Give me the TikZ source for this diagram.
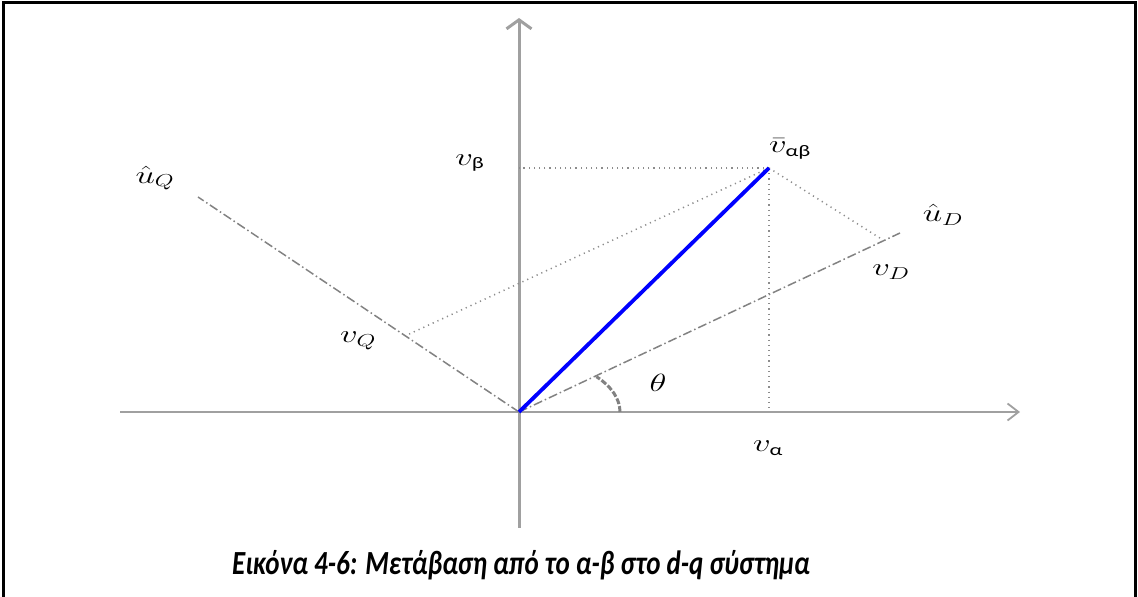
\documentclass[tikz,border=0pt]{standalone}
\usepackage{amsmath}
\usepackage{fontspec}
\usepackage{tikz}
\usetikzlibrary{arrows.meta, positioning, calc}
\newfontfamily\calfont{Carlito}
\definecolor{axisgray}{RGB}{160,160,160}
\definecolor{linegray}{RGB}{130,130,130}
\definecolor{dotgray}{RGB}{140,140,140}
\newcommand{\gsub}[1]{\text{\calfont #1}}

\begin{document}
\begin{tikzpicture}[x=1pt, y=1pt,
    lbl/.style={font=\fontsize{23}{26}\selectfont, xscale=1.4, inner sep=0pt},
    axisline/.style={draw=axisgray},
    dqaxis/.style={draw=linegray, line width=1.5pt,
                   dash pattern=on 9pt off 3pt on 1.5pt off 3pt},
    proj/.style={draw=dotgray, line width=1.5pt, dash pattern=on 1.2pt off 4pt}]
  \useasboundingbox (0,0) rectangle (1138,597);
  % frame
  \draw[line width=3pt] (3,0) -- (3,594) -- (1135,594) -- (1135,0);

  % points
  \coordinate (O)  at (519,185);
  \coordinate (xl) at (120,185);
  \coordinate (xr) at (1020,185);
  \coordinate (yb) at (519,69);
  \coordinate (yt) at (519,579);
  \coordinate (V)  at (769,429);
  \coordinate (D)  at (900,364);
  \coordinate (Q)  at (198,400);
  \coordinate (PD) at (883,357);
  \coordinate (PQ) at (405,261);
  \coordinate (Pa) at (769,185);
  \coordinate (Pb) at (519,429);

  % axes
  \draw[axisline, line width=1.8pt, -{Straight Barb[length=11pt, width=17pt]}] (xl) -- (xr);
  \draw[axisline, line width=3pt, -{Straight Barb[length=9pt, width=25pt]}] (yb) -- (yt);
  \draw[dqaxis] (O) -- (D);
  \draw[dqaxis] (O) -- (Q);

  % projections
  \draw[proj] (V) -- (Pb);
  \draw[proj] (V) -- (Pa);
  \draw[proj] (V) -- (PD);
  \draw[proj] (V) -- (PQ);

  % vector
  \draw[blue, line width=3.8pt] (O) -- (V);

  % angle
  \draw[linegray, line width=3pt, dash pattern=on 6pt off 2pt]
    (620,185) arc[start angle=0, end angle=40, x radius=101, y radius=55];

  % labels
  \node[lbl] (uQ)    at (155,419) {$\hat{u}_Q$};
  \node[lbl] (vb)    at (470,434) {$v_{\gsub{β}}$};
  \node[lbl] (vab)   at (790,448) {$\bar{v}_{\gsub{αβ}}$};
  \node[lbl] (uD)    at (943,382) {$\hat{u}_D$};
  \node[lbl] (vD)    at (891,325) {$v_D$};
  \node[lbl] (vQ)    at (358,256) {$v_Q$};
  \node[lbl] (theta) at (658,214) {$\theta$};
  \node[lbl] (va)    at (768,149) {$v_{\gsub{α}}$};

  % caption
  \node[font=\calfont\bfseries\itshape\fontsize{27}{32}\selectfont, inner sep=0pt, yscale=1.25]
    (cap) at (521,32) {Εικόνα 4-6: Μετάβαση από το α-β στο d-q σύστημα};
\end{tikzpicture}
\end{document}
